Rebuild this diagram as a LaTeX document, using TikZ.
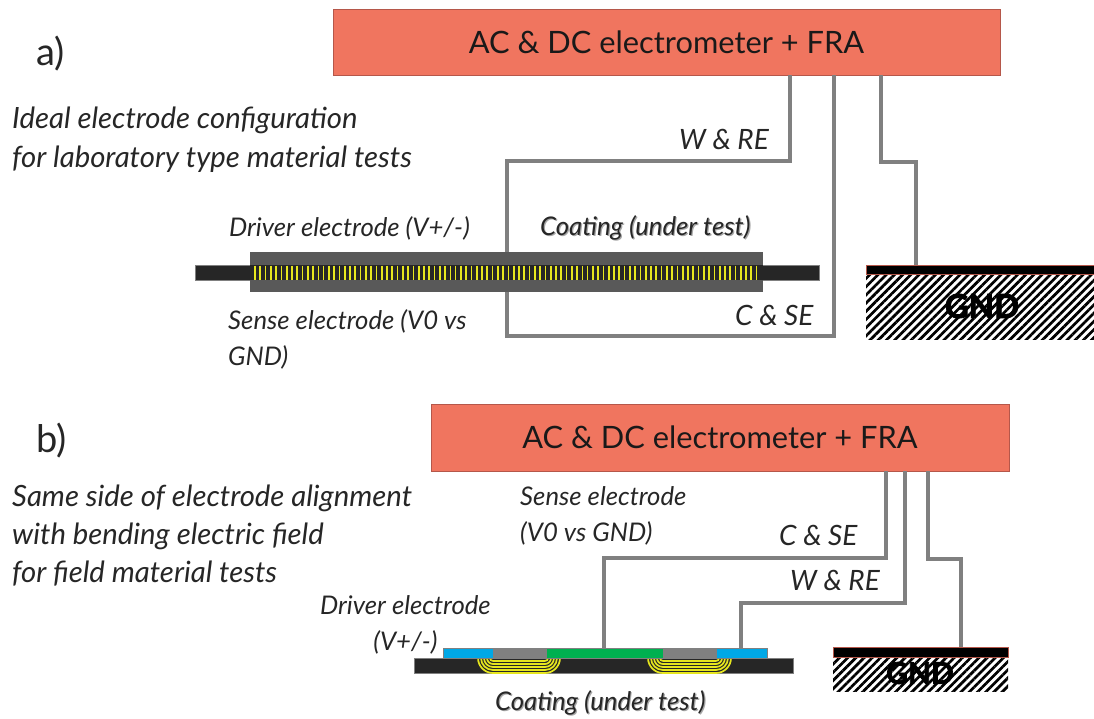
\documentclass[tikz,border=0pt]{standalone}
\usepackage{fontspec}
\setmainfont{Lato}
\newfontfamily\gndfont[BoldFeatures={FakeBold=2.5}]{Lato}
\usetikzlibrary{patterns.meta}
\definecolor{boxred}{HTML}{F0755F}
\definecolor{boxedge}{HTML}{B5574A}
\definecolor{wiregray}{HTML}{808080}
\definecolor{bodygray}{HTML}{595959}
\definecolor{barblack}{HTML}{262626}
\definecolor{coilyellow}{HTML}{E6E61E}
\definecolor{padblue}{HTML}{00A8E6}
\definecolor{padgreen}{HTML}{00B050}
\newcommand{\shadowtext}[1]{\rlap{\raisebox{-1pt}{\hspace{1.2pt}\textcolor{black!35}{#1}}}#1}
\tikzset{
	instr/.style = {draw = boxedge, fill = boxred, inner sep = 0pt, font = \fontsize{30.8}{36}\selectfont, text = black!90},
	wire/.style = {wiregray, line width = 4.2pt, line join = miter},
	lab/.style = {anchor = west, inner sep = 0pt, align = left, text = black!85, font = \fontsize{25.7}{36}\selectfont\itshape},
	labbig/.style = {lab, font = \fontsize{29.3}{38.5}\selectfont\itshape},
	labwire/.style = {lab, font = \fontsize{28}{36}\selectfont\itshape},
	partlab/.style = {lab, font = \fontsize{38}{42}\selectfont},
	gndbar/.style = {draw = boxedge, fill = black, inner sep = 0pt, line width = 0.8pt},
	hatch/.style = {inner sep = 0pt, pattern = {Lines[angle = 45, distance = 5.8pt, line width = 2.7pt]}},
	gndtext/.style = {font = \fontsize{33}{36}\gndfont\bfseries, text = black},
	strip/.style = {draw = wiregray, line width = 1pt, inner sep = 0pt},
	coil/.style = {coilyellow, line width = 1.7pt}
}
\begin{document}
\begin{tikzpicture}[x = 1pt, y = -1pt]
	\useasboundingbox (0,0) rectangle (1094,718);

	% a)
	\node [partlab] (parta) at (36,54) {a)};
	\node [labbig] (ideala) at (12,139.5) {Ideal electrode configuration\\for laboratory type material tests};
	\node [instr, minimum width = 667pt, minimum height = 66pt] (boxa) at (666.5,42) {AC \& DC electrometer + FRA};
	\draw [strip, fill = barblack] (195,265) rectangle (819,280);
	\node [fill = bodygray, inner sep = 0pt, minimum width = 513pt, minimum height = 40pt] (bodya) at (506.5,272) {};
	\fill [barblack] (250,265) rectangle (763,280);
	\foreach \x in {0,...,95}
		\draw [coilyellow, line width = 1.7pt] (255+5.28*\x,265.5) -- (255+5.28*\x,280);
	\draw [wire] (790,0 |- boxa.south) -- (790,161) -- (507,161) -- (507,0 |- bodya.north);
	\draw [wire] (834,0 |- boxa.south) -- (834,336) -- (507,336) -- (507,0 |- bodya.south);
	\node [hatch, minimum width = 228pt, minimum height = 65pt] (hatcha) at (980,306.5) {};
	\node [gndbar, minimum width = 228pt, minimum height = 9pt] (grounda) at (980,269.5) {};
	\draw [wire] (881,0 |- boxa.south) -- (881,162) -- (916,162) -- (916,0 |- grounda.north);
	\node [gndtext] (gnda) at (982,306) {GND};
	\node [lab] (drivera) at (229,228) {Driver electrode (V+/-)};
	\node [lab] (coatinga) at (540,228) {\shadowtext{Coating (under test)}};
	\node [lab] (sensea) at (228,339) {Sense electrode (V0 vs\\GND)};
	\node [labwire] (wrea) at (679,139.5) {W \& RE};
	\node [labwire] (csea) at (735,315) {C \& SE};

	% b)
	\node [partlab] (partb) at (36,441) {b)};
	\node [labbig, font = \fontsize{29.3}{38}\selectfont\itshape] (sameb) at (12,536) {Same side of electrode alignment\\with bending electric field\\for field material tests};
	\node [instr, minimum width = 578pt, minimum height = 67pt] (boxb) at (720,437.5) {AC \& DC electrometer + FRA};
	\draw [strip, fill = barblack] (414,658) rectangle (793,673);
	\foreach \cx/\sx in {493/-1,545/1,663/-1,716/1}
		\foreach \r in {3,6,9,12,15}
			\draw [coil] (\cx,658) ++(\sx*\r,0) arc [start angle = {90-\sx*90}, end angle = {90+\sx*0}, radius = \r];
	\foreach \r in {3,6,9,12,15}
	{
		\draw [coil] (493,658+\r) -- (545,658+\r);
		\draw [coil] (663,658+\r) -- (716,658+\r);
	}
	\draw [strip, fill = padblue] (443,648) rectangle (493,658);
	\draw [strip, fill = wiregray] (493,648) rectangle (546,658);
	\draw [strip, fill = padgreen] (546,648) rectangle (663,658);
	\draw [strip, fill = wiregray] (663,648) rectangle (716,658);
	\draw [strip, fill = padblue] (716,648) rectangle (767,658);
	\coordinate (senseb) at (604,648);
	\coordinate (driveb) at (741,648);
	\draw [wire] (886,0 |- boxb.south) -- (886,558) -- (604,558) -- (senseb);
	\draw [wire] (905,0 |- boxb.south) -- (905,603) -- (741,603) -- (driveb);
	\node [hatch, minimum width = 175pt, minimum height = 34pt] (hatchb) at (920.5,674) {};
	\node [gndbar, minimum width = 175pt, minimum height = 10pt] (groundb) at (920.5,652) {};
	\draw [wire] (928,0 |- boxb.south) -- (928,559) -- (961,559) -- (961,0 |- groundb.north);
	\node [gndtext, font = \fontsize{30}{34}\gndfont\bfseries] (gndb) at (920,673) {GND};
	\node [lab] (senselabb) at (520,516) {Sense electrode\\(V0 vs GND)};
	\node [labwire] (cseb) at (779,535) {C \& SE};
	\node [labwire] (wreb) at (790,580) {W \& RE};
	\node [lab, align = center] (driverb) at (320,625) {Driver electrode\\(V+/-)};
	\node [lab] (coatingb) at (495,703) {\shadowtext{Coating (under test)}};
\end{tikzpicture}
\end{document}
